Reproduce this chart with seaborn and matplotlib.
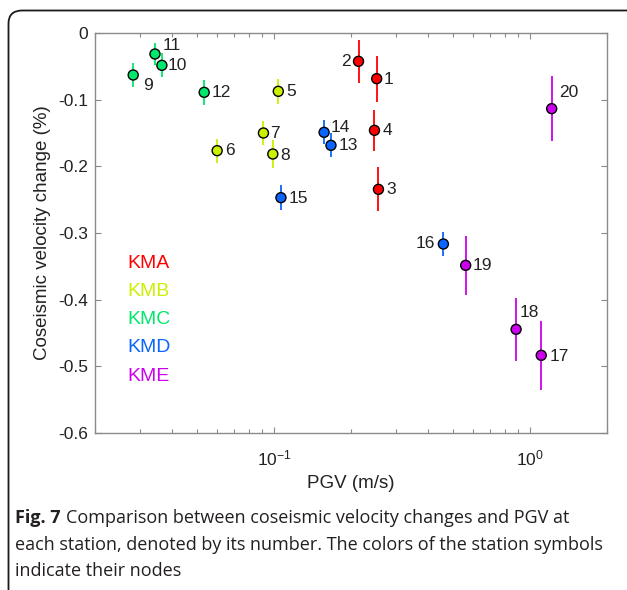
import numpy as np
import pandas as pd
import seaborn as sns
import matplotlib.pyplot as plt
from matplotlib.patches import FancyBboxPatch
from matplotlib.ticker import FixedLocator, FixedFormatter, LogLocator, NullFormatter

# station data
stations = [1, 2, 3, 4, 5, 6, 7, 8, 9, 10, 11, 12, 13, 14, 15, 16, 17, 18, 19, 20]
nodes = ['KMA', 'KMA', 'KMA', 'KMA', 'KMB', 'KMB', 'KMB', 'KMB', 'KMC', 'KMC',
         'KMC', 'KMC', 'KMD', 'KMD', 'KMD', 'KMD', 'KME', 'KME', 'KME', 'KME']
pgv = [0.252, 0.214, 0.256, 0.247, 0.104, 0.060, 0.091, 0.099, 0.0282, 0.0365,
       0.0343, 0.0534, 0.167, 0.157, 0.1065, 0.459, 1.107, 0.883, 0.561, 1.216]
dv = [-0.0685, -0.0425, -0.2345, -0.146, -0.0875, -0.1765, -0.150, -0.1815, -0.063, -0.0485,
      -0.0315, -0.089, -0.1685, -0.149, -0.247, -0.3165, -0.4835, -0.4445, -0.3485, -0.1135]
dv_err = [0.0345, 0.032, 0.033, 0.031, 0.019, 0.018, 0.018, 0.021, 0.018, 0.018,
          0.016, 0.019, 0.018, 0.018, 0.019, 0.018, 0.052, 0.047, 0.044, 0.049]

node_names = ['KMA', 'KMB', 'KMC', 'KMD', 'KME']
node_colors = ['#ff0000', '#ccf000', '#00e86c', '#0a64ff', '#cc00ee']

y_ticks = [0, -0.1, -0.2, -0.3, -0.4, -0.5, -0.6]
y_ticklabels = ['0', '-0.1', '-0.2', '-0.3', '-0.4', '-0.5', '-0.6']

# label placement (pixel offsets from marker), keyed by station
label_offsets = {1: (7, -1), 2: (-8, 0), 3: (8, 0), 4: (8, 0), 5: (8, 0), 6: (8, 0),
                 7: (7, 0), 8: (7, -1), 9: (10, -10), 10: (6, 0), 11: (8, 9),
                 12: (7, 0), 13: (8, 0), 14: (7, 5), 15: (8, -1), 16: (-8, 0),
                 17: (8, -1), 18: (4, 17), 19: (7, 0), 20: (7, 16)}

df = pd.DataFrame({'station': stations, 'node': nodes, 'pgv': pgv,
                   'dv': dv, 'err': dv_err})
palette = dict(zip(node_names, node_colors))

sns.set_style('white')
plt.rcParams['font.family'] = ['Liberation Sans', 'DejaVu Sans']
plt.rcParams['axes.unicode_minus'] = False
plt.rcParams['mathtext.fontset'] = 'custom'
plt.rcParams['mathtext.rm'] = 'Liberation Sans'
plt.rcParams['mathtext.it'] = 'Liberation Sans:italic'

fig = plt.figure(figsize=(6.27, 5.90), dpi=100)
ax = fig.add_axes([95 / 627, 1 - 433 / 590, 512 / 627, 400 / 590])

# error bars first, markers on top
for _, r in df.iterrows():
    ax.errorbar(r['pgv'], r['dv'], yerr=r['err'], fmt='none',
                ecolor=palette[r['node']], elinewidth=1.3, capsize=0, zorder=2)

sns.scatterplot(data=df, x='pgv', y='dv', hue='node', palette=palette,
                s=52, edgecolor='black', linewidth=1.0, legend=False, ax=ax, zorder=3)

for _, r in df.iterrows():
    dx, dy = label_offsets[r['station']]
    ax.annotate(str(r['station']), (r['pgv'], r['dv']), xytext=(dx, dy),
                textcoords='offset pixels', ha='left' if dx > 0 else 'right',
                va='center', fontsize=12.5, color='#222222')

ax.set_xscale('log')
ax.set_xlim(0.02, 2)
ax.set_ylim(-0.6, 0)
ax.yaxis.set_major_locator(FixedLocator(y_ticks))
ax.yaxis.set_major_formatter(FixedFormatter(y_ticklabels))
ax.xaxis.set_major_locator(FixedLocator([0.1, 1]))
ax.xaxis.set_major_formatter(FixedFormatter([r'$10^{-1}$', r'$10^{0}$']))
ax.xaxis.set_minor_locator(LogLocator(base=10, subs=np.arange(2, 10)))
ax.xaxis.set_minor_formatter(NullFormatter())

for sp in ax.spines.values():
    sp.set_visible(True)
    sp.set_color('#8a8a8a')
    sp.set_linewidth(1.0)
ax.tick_params(axis='both', which='both', direction='in', top=True, right=True,
               bottom=True, left=True, color='#8a8a8a', width=0.8,
               labelsize=12.5, labelcolor='#222222')
ax.tick_params(axis='both', which='major', length=4.5, pad=5)
ax.tick_params(axis='x', which='minor', length=3)
ax.tick_params(axis='x', which='major', pad=11)

ax.set_xlabel('PGV (m/s)', fontsize=13.5, color='#222222', labelpad=5)
ax.set_ylabel('Coseismic velocity change (%)', fontsize=13.5, color='#222222', labelpad=5)

# node key in the lower left
for i, (name, col) in enumerate(zip(node_names, node_colors)):
    ax.text(0.064, 0.425 - i * 0.0708, name, transform=ax.transAxes,
            color=col, fontsize=14, va='center', ha='left')

# frame and caption
frame = FancyBboxPatch((8.5 / 627, -0.1), 1.2, (590 - 10.5) / 590 + 0.1,
                       boxstyle='round,pad=0,rounding_size=0.022',
                       transform=fig.transFigure, fill=False,
                       edgecolor='#1a1a1a', linewidth=1.3)
fig.patches.append(frame)

cap_kw = dict(fontsize=13.0, color='#231f20', family=['Open Sans', 'DejaVu Sans'], va='center')
t_bold = fig.text(15 / 627, 1 - 518 / 590, 'Fig. 7', fontweight='bold', **cap_kw)
fig.canvas.draw()
bb = t_bold.get_window_extent()
fig.text((bb.x1 + 5) / 627, 1 - 518 / 590,
         'Comparison between coseismic velocity changes and PGV at', **cap_kw)
fig.text(15 / 627, 1 - 545 / 590,
         'each station, denoted by its number. The colors of the station symbols', **cap_kw)
fig.text(15 / 627, 1 - 571 / 590, 'indicate their nodes', **cap_kw)

fig.savefig('out.png', dpi=100)
